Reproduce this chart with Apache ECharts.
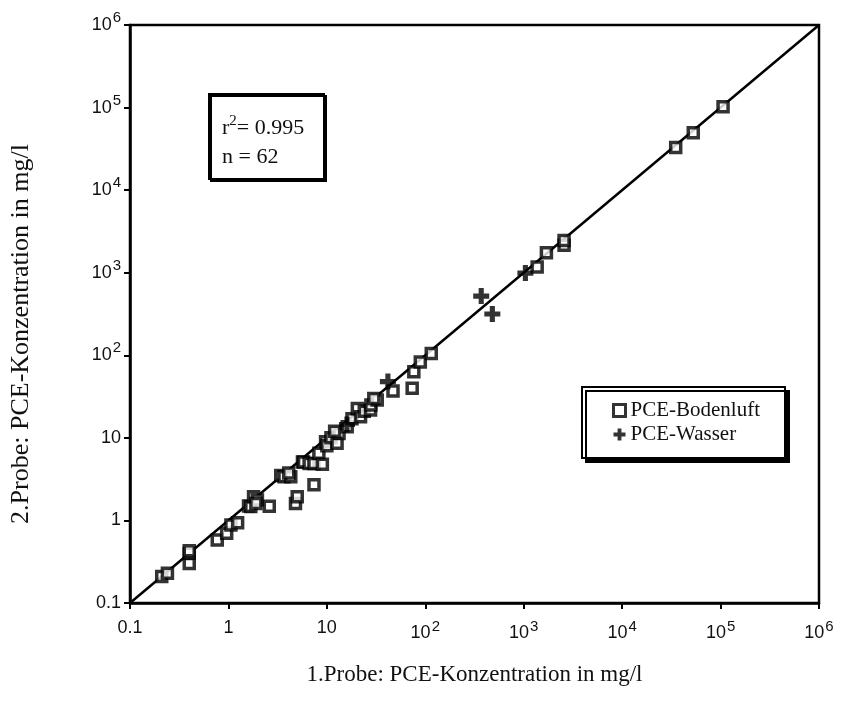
<!DOCTYPE html>
<html>
<head>
<meta charset="utf-8">
<script src="https://cdn.jsdelivr.net/npm/echarts@6/dist/echarts.min.js"></script>
<style>
html,body{margin:0;padding:0;background:#fff;}
#c{width:842px;height:702px;}
</style>
</head>
<body>
<div id="c"></div>
<script>
// ---- data ----
const seriesNames = ['PCE-Bodenluft', 'PCE-Wasser'];
const bodenluft = [
  [0.21,0.21],[0.24,0.23],[0.4,0.3],[0.4,0.4],[0.4,0.43],[0.77,0.58],[0.96,0.7],[1.06,0.88],[1.24,0.94],
  [1.6,1.5],[1.69,1.47],[1.8,1.94],[1.97,1.77],[1.9,1.6],[2.6,1.49],[3.4,3.5],[3.67,3.38],[4.3,3.38],
  [4.1,3.75],[4.8,1.6],[5.0,1.94],[5.65,5.1],[5.8,5.1],[6.6,4.9],[7.4,4.9],[7.4,2.7],[8.3,6.5],[9,4.8],
  [9.7,9],[10,8],[11,10],[12.7,8.6],[13.3,11.3],[12,12],[16.1,13.6],[18,17],[20.4,22.7],[22,18],[24,21],
  [27.8,21.7],[28,25],[32.5,28.7],[30,30],[47,37],[73.6,40],[76.5,63],[89,83],[115,105],
  [1370,1170],[1700,1740],[2570,2150],[2570,2460],[35000,32900],[52800,49400],[106000,102000]
];
const wasser = [[16,14.5],[41.7,48],[370,521],[480,316],[1040,990]];
const lineX = [0.1, 1e6];
const r2Text = '0.995';
const nText = '62';
const xTitle = '1.Probe: PCE-Konzentration in mg/l';
const yTitle = '2.Probe: PCE-Konzentration in mg/l';

const plusPath = 'path://M3.4,0H6.6V3.4H10V6.6H6.6V10H3.4V6.6H0V3.4H3.4Z';

function logLabel(v) {
  const e = Math.round(Math.log10(v));
  if (e === -1) return '{b|0.1}';
  if (e === 0) return '{b|1}';
  if (e === 1) return '{b|10}';
  return '{b|10}{s|' + e + '}';
}
const richLbl = {
  b: {fontSize: 18, fontFamily: 'Liberation Sans', color: '#111'},
  s: {fontSize: 15, fontFamily: 'Liberation Sans', color: '#111', padding: [0, 0, 14, 1]}
};

const chart = echarts.init(document.getElementById('c'), null, {renderer: 'canvas'});
const axisCommon = {
  type: 'log', logBase: 10, min: 0.1, max: 1e6,
  axisLine: {show: true, lineStyle: {color: '#000', width: 2.5}},
  axisTick: {show: true, length: 6, lineStyle: {color: '#000', width: 2}},
  minorTick: {show: false},
  splitLine: {show: false},
  nameLocation: 'middle'
};
chart.setOption({
  backgroundColor: '#fff',
  animation: false,
  grid: {left: 129, right: 23, top: 25, bottom: 99, show: true, borderColor: '#000', borderWidth: 2.5, backgroundColor: 'transparent'},
  xAxis: Object.assign({}, axisCommon, {
    name: xTitle, nameGap: 60,
    nameTextStyle: {fontFamily: 'Liberation Serif', fontSize: 23, color: '#111'},
    axisLabel: {formatter: logLabel, rich: richLbl, margin: 16}
  }),
  yAxis: Object.assign({}, axisCommon, {
    name: yTitle, nameGap: 96,
    nameTextStyle: {fontFamily: 'Liberation Serif', fontSize: 26, color: '#111', padding: [0, 40, 0, 0]},
    axisLabel: {formatter: logLabel, rich: richLbl, margin: 9}
  }),
  legend: {
    data: [
      {name: seriesNames[0], icon: 'rect', itemStyle: {color: '#fff', borderColor: '#000', borderWidth: 3}},
      {name: seriesNames[1], icon: plusPath, itemStyle: {color: '#000', borderWidth: 0}}
    ],
    orient: 'vertical', left: 582, top: 387,
    padding: [13, 25, 13, 30], itemGap: 3, itemWidth: 12, itemHeight: 12,
    backgroundColor: '#fff', borderColor: '#000', borderWidth: 2,
    shadowColor: '#000', shadowBlur: 0, shadowOffsetX: 4, shadowOffsetY: 4,
    textStyle: {fontFamily: 'Liberation Serif', fontSize: 21, color: '#111'}
  },
  graphic: [
    {type: 'rect', left: 208, top: 93, z: 10,
     shape: {width: 115, height: 85},
     style: {fill: '#fff', stroke: '#000', lineWidth: 2, shadowColor: '#000', shadowBlur: 0, shadowOffsetX: 2, shadowOffsetY: 2}},
    {type: 'text', left: 222, top: 114, z: 11,
     style: {text: '{t|r}{s|2}{t|= ' + r2Text + '}', rich: {
       t: {fontFamily: 'Liberation Serif', fontSize: 22, fill: '#111'},
       s: {fontFamily: 'Liberation Serif', fontSize: 15, fill: '#111', padding: [0, 0, 13, 0]}}}},
    {type: 'text', left: 222, top: 146, z: 11,
     style: {text: 'n = ' + nText, font: '22px "Liberation Serif"', fill: '#111'}}
  ],
  series: [
    {type: 'line', data: lineX.map(v => [v, v]), showSymbol: false, symbol: 'none',
     lineStyle: {color: '#000', width: 2.5}, z: 1, silent: true, legendHoverLink: false},
    {name: seriesNames[0], type: 'scatter', data: bodenluft, symbol: 'rect', symbolSize: 10,
     itemStyle: {color: '#fff', borderColor: '#000', borderWidth: 3.5}, z: 3},
    {name: seriesNames[1], type: 'scatter', data: wasser, symbol: plusPath, symbolSize: 16,
     itemStyle: {color: '#000'}, z: 4}
  ]
});
</script>
</body>
</html>
